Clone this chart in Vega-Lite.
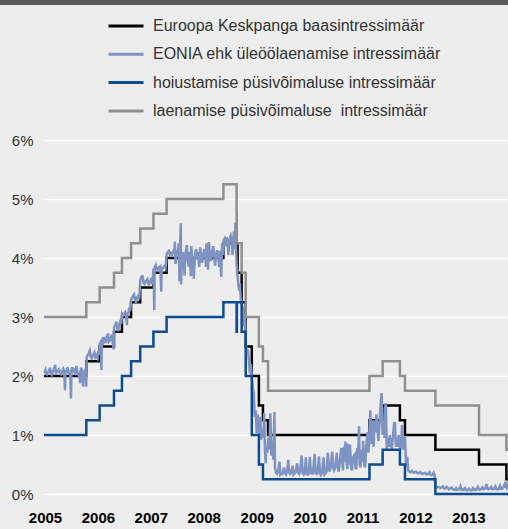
{
  "$schema": "https://vega.github.io/schema/vega-lite/v6.json",
  "autosize": {"type": "none"},
  "padding": {"left": 44, "top": 140, "right": 0, "bottom": 35},
  "width": 464,
  "height": 354,
  "background": "#ECEDEC",
  "config": {
    "view": {"stroke": null},
    "font": "Liberation Sans"
  },
  "datasets": {
    "band": [{"band": "top"}],
    "rates": [
      {"d": "2005-02-17", "s": "Euroopa Keskpanga baasintressimäär", "v": 2.00},
      {"d": "2005-12-06", "s": "Euroopa Keskpanga baasintressimäär", "v": 2.25},
      {"d": "2006-03-08", "s": "Euroopa Keskpanga baasintressimäär", "v": 2.50},
      {"d": "2006-06-15", "s": "Euroopa Keskpanga baasintressimäär", "v": 2.75},
      {"d": "2006-08-09", "s": "Euroopa Keskpanga baasintressimäär", "v": 3.00},
      {"d": "2006-10-11", "s": "Euroopa Keskpanga baasintressimäär", "v": 3.25},
      {"d": "2006-12-13", "s": "Euroopa Keskpanga baasintressimäär", "v": 3.50},
      {"d": "2007-03-14", "s": "Euroopa Keskpanga baasintressimäär", "v": 3.75},
      {"d": "2007-06-13", "s": "Euroopa Keskpanga baasintressimäär", "v": 4.00},
      {"d": "2008-07-09", "s": "Euroopa Keskpanga baasintressimäär", "v": 4.25},
      {"d": "2008-10-15", "s": "Euroopa Keskpanga baasintressimäär", "v": 3.75},
      {"d": "2008-11-12", "s": "Euroopa Keskpanga baasintressimäär", "v": 3.25},
      {"d": "2008-12-10", "s": "Euroopa Keskpanga baasintressimäär", "v": 2.50},
      {"d": "2009-01-21", "s": "Euroopa Keskpanga baasintressimäär", "v": 2.00},
      {"d": "2009-03-11", "s": "Euroopa Keskpanga baasintressimäär", "v": 1.50},
      {"d": "2009-04-08", "s": "Euroopa Keskpanga baasintressimäär", "v": 1.25},
      {"d": "2009-05-13", "s": "Euroopa Keskpanga baasintressimäär", "v": 1.00},
      {"d": "2011-04-13", "s": "Euroopa Keskpanga baasintressimäär", "v": 1.25},
      {"d": "2011-07-13", "s": "Euroopa Keskpanga baasintressimäär", "v": 1.50},
      {"d": "2011-11-09", "s": "Euroopa Keskpanga baasintressimäär", "v": 1.25},
      {"d": "2011-12-14", "s": "Euroopa Keskpanga baasintressimäär", "v": 1.00},
      {"d": "2012-07-11", "s": "Euroopa Keskpanga baasintressimäär", "v": 0.75},
      {"d": "2013-05-08", "s": "Euroopa Keskpanga baasintressimäär", "v": 0.50},
      {"d": "2013-11-13", "s": "Euroopa Keskpanga baasintressimäär", "v": 0.25},
      {"d": "2013-11-25", "s": "Euroopa Keskpanga baasintressimäär", "v": 0.25},
      {"d": "2005-02-17", "s": "hoiustamise püsivõimaluse intressimäär", "v": 1.00},
      {"d": "2005-12-06", "s": "hoiustamise püsivõimaluse intressimäär", "v": 1.25},
      {"d": "2006-03-08", "s": "hoiustamise püsivõimaluse intressimäär", "v": 1.50},
      {"d": "2006-06-15", "s": "hoiustamise püsivõimaluse intressimäär", "v": 1.75},
      {"d": "2006-08-09", "s": "hoiustamise püsivõimaluse intressimäär", "v": 2.00},
      {"d": "2006-10-11", "s": "hoiustamise püsivõimaluse intressimäär", "v": 2.25},
      {"d": "2006-12-13", "s": "hoiustamise püsivõimaluse intressimäär", "v": 2.50},
      {"d": "2007-03-14", "s": "hoiustamise püsivõimaluse intressimäär", "v": 2.75},
      {"d": "2007-06-13", "s": "hoiustamise püsivõimaluse intressimäär", "v": 3.00},
      {"d": "2008-07-09", "s": "hoiustamise püsivõimaluse intressimäär", "v": 3.25},
      {"d": "2008-10-08", "s": "hoiustamise püsivõimaluse intressimäär", "v": 2.75},
      {"d": "2008-10-10", "s": "hoiustamise püsivõimaluse intressimäär", "v": 3.25},
      {"d": "2008-11-12", "s": "hoiustamise püsivõimaluse intressimäär", "v": 2.75},
      {"d": "2008-12-10", "s": "hoiustamise püsivõimaluse intressimäär", "v": 2.00},
      {"d": "2009-01-21", "s": "hoiustamise püsivõimaluse intressimäär", "v": 1.00},
      {"d": "2009-03-11", "s": "hoiustamise püsivõimaluse intressimäär", "v": 0.50},
      {"d": "2009-04-08", "s": "hoiustamise püsivõimaluse intressimäär", "v": 0.25},
      {"d": "2011-04-13", "s": "hoiustamise püsivõimaluse intressimäär", "v": 0.50},
      {"d": "2011-07-13", "s": "hoiustamise püsivõimaluse intressimäär", "v": 0.75},
      {"d": "2011-11-09", "s": "hoiustamise püsivõimaluse intressimäär", "v": 0.50},
      {"d": "2011-12-14", "s": "hoiustamise püsivõimaluse intressimäär", "v": 0.25},
      {"d": "2012-07-11", "s": "hoiustamise püsivõimaluse intressimäär", "v": 0.00},
      {"d": "2013-11-25", "s": "hoiustamise püsivõimaluse intressimäär", "v": 0.00},
      {"d": "2005-02-17", "s": "laenamise püsivõimaluse\u00a0 intressimäär", "v": 3.00},
      {"d": "2005-12-06", "s": "laenamise püsivõimaluse\u00a0 intressimäär", "v": 3.25},
      {"d": "2006-03-08", "s": "laenamise püsivõimaluse\u00a0 intressimäär", "v": 3.50},
      {"d": "2006-06-15", "s": "laenamise püsivõimaluse\u00a0 intressimäär", "v": 3.75},
      {"d": "2006-08-09", "s": "laenamise püsivõimaluse\u00a0 intressimäär", "v": 4.00},
      {"d": "2006-10-11", "s": "laenamise püsivõimaluse\u00a0 intressimäär", "v": 4.25},
      {"d": "2006-12-13", "s": "laenamise püsivõimaluse\u00a0 intressimäär", "v": 4.50},
      {"d": "2007-03-14", "s": "laenamise püsivõimaluse\u00a0 intressimäär", "v": 4.75},
      {"d": "2007-06-13", "s": "laenamise püsivõimaluse\u00a0 intressimäär", "v": 5.00},
      {"d": "2008-07-09", "s": "laenamise püsivõimaluse\u00a0 intressimäär", "v": 5.25},
      {"d": "2008-10-08", "s": "laenamise püsivõimaluse\u00a0 intressimäär", "v": 4.75},
      {"d": "2008-10-09", "s": "laenamise püsivõimaluse\u00a0 intressimäär", "v": 4.25},
      {"d": "2008-11-12", "s": "laenamise püsivõimaluse\u00a0 intressimäär", "v": 3.75},
      {"d": "2008-12-10", "s": "laenamise püsivõimaluse\u00a0 intressimäär", "v": 3.00},
      {"d": "2009-03-11", "s": "laenamise püsivõimaluse\u00a0 intressimäär", "v": 2.50},
      {"d": "2009-04-08", "s": "laenamise püsivõimaluse\u00a0 intressimäär", "v": 2.25},
      {"d": "2009-05-13", "s": "laenamise püsivõimaluse\u00a0 intressimäär", "v": 1.75},
      {"d": "2011-04-13", "s": "laenamise püsivõimaluse\u00a0 intressimäär", "v": 2.00},
      {"d": "2011-07-13", "s": "laenamise püsivõimaluse\u00a0 intressimäär", "v": 2.25},
      {"d": "2011-11-09", "s": "laenamise püsivõimaluse\u00a0 intressimäär", "v": 2.00},
      {"d": "2011-12-14", "s": "laenamise püsivõimaluse\u00a0 intressimäär", "v": 1.75},
      {"d": "2012-07-11", "s": "laenamise püsivõimaluse\u00a0 intressimäär", "v": 1.50},
      {"d": "2013-05-08", "s": "laenamise püsivõimaluse\u00a0 intressimäär", "v": 1.00},
      {"d": "2013-11-13", "s": "laenamise püsivõimaluse\u00a0 intressimäär", "v": 0.75},
      {"d": "2013-11-25", "s": "laenamise püsivõimaluse\u00a0 intressimäär", "v": 0.75}
    ],
    "eonia": [
      {"d":"2005-02-17","v":2.06},{"d":"2005-02-24","v":2.07},{"d":"2005-02-28","v":2.10},{"d":"2005-03-04","v":2.05},{"d":"2005-03-09","v":2.03},{"d":"2005-03-14","v":2.06},{"d":"2005-03-22","v":2.07},{"d":"2005-03-31","v":2.14},{"d":"2005-04-06","v":2.05},{"d":"2005-04-12","v":2.02},{"d":"2005-04-18","v":2.07},{"d":"2005-04-29","v":2.13},{"d":"2005-05-05","v":2.19},{"d":"2005-05-10","v":2.05},{"d":"2005-05-18","v":2.07},{"d":"2005-05-31","v":2.11},{"d":"2005-06-07","v":2.06},{"d":"2005-06-14","v":2.03},{"d":"2005-06-21","v":2.07},{"d":"2005-06-30","v":2.12},{"d":"2005-07-06","v":2.08},{"d":"2005-07-12","v":1.76},{"d":"2005-07-15","v":2.07},{"d":"2005-07-22","v":2.08},{"d":"2005-07-29","v":2.15},{"d":"2005-08-04","v":2.06},{"d":"2005-08-10","v":2.04},{"d":"2005-08-17","v":2.07},{"d":"2005-08-22","v":1.62},{"d":"2005-08-25","v":2.06},{"d":"2005-08-31","v":2.15},{"d":"2005-09-06","v":2.08},{"d":"2005-09-13","v":2.10},{"d":"2005-09-20","v":2.06},{"d":"2005-09-30","v":2.17},{"d":"2005-10-05","v":2.06},{"d":"2005-10-11","v":2.03},{"d":"2005-10-18","v":2.07},{"d":"2005-10-24","v":1.88},{"d":"2005-10-27","v":2.07},{"d":"2005-10-31","v":2.14},{"d":"2005-11-08","v":2.06},{"d":"2005-11-14","v":1.82},{"d":"2005-11-17","v":2.07},{"d":"2005-11-24","v":2.08},{"d":"2005-11-30","v":2.12},{"d":"2005-12-05","v":1.82},
      {"d":"2005-12-08","v":2.30},{"d":"2005-12-14","v":2.35},{"d":"2005-12-22","v":2.38},{"d":"2005-12-30","v":2.43},{"d":"2006-01-05","v":2.33},{"d":"2006-01-12","v":2.30},{"d":"2006-01-19","v":2.34},{"d":"2006-01-31","v":2.40},{"d":"2006-02-06","v":2.32},{"d":"2006-02-14","v":2.35},{"d":"2006-02-21","v":2.31},{"d":"2006-02-28","v":2.42},{"d":"2006-03-06","v":2.36},{"d":"2006-03-09","v":2.55},{"d":"2006-03-16","v":2.58},{"d":"2006-03-20","v":2.10},{"d":"2006-03-23","v":2.57},{"d":"2006-03-31","v":2.66},{"d":"2006-04-06","v":2.58},{"d":"2006-04-13","v":2.62},{"d":"2006-04-20","v":2.56},{"d":"2006-04-28","v":2.67},{"d":"2006-05-05","v":2.72},{"d":"2006-05-11","v":2.58},{"d":"2006-05-19","v":2.60},{"d":"2006-05-31","v":2.70},{"d":"2006-06-06","v":2.59},{"d":"2006-06-12","v":2.45},{"d":"2006-06-16","v":2.83},{"d":"2006-06-23","v":2.86},{"d":"2006-06-30","v":2.92},{"d":"2006-07-06","v":2.84},{"d":"2006-07-13","v":2.76},{"d":"2006-07-20","v":2.86},{"d":"2006-07-31","v":2.95},{"d":"2006-08-04","v":2.88},
      {"d":"2006-08-10","v":3.05},{"d":"2006-08-17","v":3.02},{"d":"2006-08-31","v":3.08},{"d":"2006-09-06","v":3.04},{"d":"2006-09-12","v":2.86},{"d":"2006-09-15","v":3.05},{"d":"2006-09-22","v":3.07},{"d":"2006-09-29","v":3.16},{"d":"2006-10-05","v":3.10},{"d":"2006-10-12","v":3.30},{"d":"2006-10-19","v":3.33},{"d":"2006-10-31","v":3.38},{"d":"2006-11-06","v":3.32},{"d":"2006-11-13","v":3.24},{"d":"2006-11-20","v":3.33},{"d":"2006-11-30","v":3.36},{"d":"2006-12-06","v":3.30},{"d":"2006-12-14","v":3.62},{"d":"2006-12-20","v":3.68},{"d":"2006-12-29","v":3.69},
      {"d":"2007-01-05","v":3.58},{"d":"2007-01-12","v":3.56},{"d":"2007-01-19","v":3.60},{"d":"2007-01-31","v":3.64},{"d":"2007-02-06","v":3.57},{"d":"2007-02-13","v":3.55},{"d":"2007-02-20","v":3.60},{"d":"2007-02-28","v":3.66},{"d":"2007-03-07","v":3.56},{"d":"2007-03-15","v":3.82},{"d":"2007-03-20","v":3.12},{"d":"2007-03-23","v":3.84},{"d":"2007-03-30","v":3.88},{"d":"2007-04-05","v":3.82},{"d":"2007-04-12","v":3.80},{"d":"2007-04-19","v":3.84},{"d":"2007-04-30","v":3.86},{"d":"2007-05-07","v":3.43},{"d":"2007-05-10","v":3.82},{"d":"2007-05-18","v":3.83},{"d":"2007-05-31","v":3.87},{"d":"2007-06-06","v":3.84},{"d":"2007-06-14","v":4.07},{"d":"2007-06-21","v":4.10},{"d":"2007-06-29","v":4.12},{"d":"2007-07-06","v":4.06},{"d":"2007-07-13","v":4.08},{"d":"2007-07-20","v":4.05},{"d":"2007-07-31","v":4.12},{"d":"2007-08-06","v":4.08},{"d":"2007-08-09","v":4.28},{"d":"2007-08-14","v":3.90},{"d":"2007-08-21","v":4.10},{"d":"2007-08-31","v":4.13},{"d":"2007-09-05","v":4.25},{"d":"2007-09-10","v":3.60},{"d":"2007-09-13","v":4.10},{"d":"2007-09-19","v":4.59},{"d":"2007-09-21","v":3.55},{"d":"2007-09-26","v":4.05},{"d":"2007-10-02","v":4.10},{"d":"2007-10-09","v":3.92},{"d":"2007-10-15","v":3.70},{"d":"2007-10-19","v":4.05},{"d":"2007-10-31","v":4.22},{"d":"2007-11-06","v":3.95},{"d":"2007-11-13","v":3.85},{"d":"2007-11-20","v":4.10},{"d":"2007-11-27","v":3.69},{"d":"2007-11-30","v":4.20},{"d":"2007-12-05","v":4.05},{"d":"2007-12-11","v":3.92},{"d":"2007-12-18","v":3.65},{"d":"2007-12-21","v":3.85},{"d":"2007-12-28","v":4.10},
      {"d":"2008-01-04","v":4.15},{"d":"2008-01-10","v":3.98},{"d":"2008-01-17","v":4.10},{"d":"2008-01-24","v":3.85},{"d":"2008-01-31","v":4.18},{"d":"2008-02-06","v":4.02},{"d":"2008-02-13","v":3.92},{"d":"2008-02-20","v":4.07},{"d":"2008-02-29","v":4.15},{"d":"2008-03-06","v":4.05},{"d":"2008-03-11","v":3.85},{"d":"2008-03-14","v":4.25},{"d":"2008-03-20","v":4.15},{"d":"2008-03-25","v":3.80},{"d":"2008-03-31","v":4.27},{"d":"2008-04-07","v":4.02},{"d":"2008-04-14","v":3.95},{"d":"2008-04-21","v":4.10},{"d":"2008-04-30","v":4.20},{"d":"2008-05-06","v":4.05},{"d":"2008-05-13","v":3.87},{"d":"2008-05-20","v":4.05},{"d":"2008-05-26","v":4.13},{"d":"2008-05-30","v":4.10},{"d":"2008-06-05","v":4.00},{"d":"2008-06-10","v":3.85},{"d":"2008-06-16","v":4.12},{"d":"2008-06-24","v":3.68},{"d":"2008-06-30","v":4.25},{"d":"2008-07-07","v":4.05},{"d":"2008-07-10","v":4.30},{"d":"2008-07-17","v":4.33},{"d":"2008-07-24","v":4.20},{"d":"2008-07-31","v":4.35},{"d":"2008-08-07","v":4.28},{"d":"2008-08-12","v":4.05},{"d":"2008-08-19","v":4.30},{"d":"2008-08-29","v":4.38},{"d":"2008-09-05","v":4.32},{"d":"2008-09-09","v":4.05},{"d":"2008-09-16","v":4.25},{"d":"2008-09-19","v":4.45},{"d":"2008-09-24","v":4.15},{"d":"2008-09-30","v":4.60},{"d":"2008-10-03","v":4.30},{"d":"2008-10-08","v":3.90},{"d":"2008-10-13","v":3.75},{"d":"2008-10-20","v":3.55},{"d":"2008-10-27","v":3.45},{"d":"2008-10-31","v":3.57},{"d":"2008-11-06","v":3.30},{"d":"2008-11-13","v":3.20},{"d":"2008-11-20","v":3.15},{"d":"2008-11-27","v":2.84},{"d":"2008-12-05","v":3.05},{"d":"2008-12-11","v":2.55},{"d":"2008-12-18","v":2.39},{"d":"2008-12-24","v":2.45},{"d":"2008-12-31","v":2.30},
      {"d":"2009-01-07","v":2.05},{"d":"2009-01-14","v":2.20},{"d":"2009-01-21","v":1.99},{"d":"2009-01-28","v":1.80},{"d":"2009-02-04","v":1.70},{"d":"2009-02-10","v":1.31},{"d":"2009-02-17","v":1.42},{"d":"2009-02-24","v":1.03},{"d":"2009-03-02","v":1.35},{"d":"2009-03-09","v":1.15},{"d":"2009-03-13","v":0.95},{"d":"2009-03-20","v":1.31},{"d":"2009-03-27","v":0.92},{"d":"2009-04-03","v":1.10},{"d":"2009-04-10","v":0.95},{"d":"2009-04-17","v":1.37},{"d":"2009-04-22","v":0.70},{"d":"2009-04-27","v":0.52},{"d":"2009-05-01","v":0.80},{"d":"2009-05-08","v":0.70},{"d":"2009-05-15","v":0.95},{"d":"2009-05-22","v":0.75},{"d":"2009-05-29","v":1.37},{"d":"2009-06-05","v":0.65},{"d":"2009-06-12","v":0.90},{"d":"2009-06-19","v":0.58},{"d":"2009-06-26","v":1.39},{"d":"2009-06-30","v":0.46},
      {"d":"2009-07-07","v":0.36},{"d":"2009-07-14","v":0.34},{"d":"2009-07-21","v":0.37},{"d":"2009-07-31","v":0.55},{"d":"2009-08-06","v":0.33},{"d":"2009-08-13","v":0.35},{"d":"2009-08-20","v":0.34},{"d":"2009-08-31","v":0.45},{"d":"2009-09-07","v":0.36},{"d":"2009-09-14","v":0.33},{"d":"2009-09-21","v":0.38},{"d":"2009-09-30","v":0.58},{"d":"2009-10-06","v":0.36},{"d":"2009-10-13","v":0.34},{"d":"2009-10-20","v":0.37},{"d":"2009-10-30","v":0.48},{"d":"2009-11-05","v":0.33},{"d":"2009-11-12","v":0.35},{"d":"2009-11-19","v":0.37},{"d":"2009-11-30","v":0.52},{"d":"2009-12-07","v":0.36},{"d":"2009-12-14","v":0.34},{"d":"2009-12-21","v":0.40},{"d":"2009-12-31","v":0.65},
      {"d":"2010-01-07","v":0.35},{"d":"2010-01-14","v":0.33},{"d":"2010-01-21","v":0.36},{"d":"2010-01-29","v":0.62},{"d":"2010-02-04","v":0.34},{"d":"2010-02-11","v":0.33},{"d":"2010-02-18","v":0.36},{"d":"2010-02-26","v":0.63},{"d":"2010-03-04","v":0.34},{"d":"2010-03-11","v":0.38},{"d":"2010-03-18","v":0.33},{"d":"2010-03-31","v":0.68},{"d":"2010-04-07","v":0.35},{"d":"2010-04-14","v":0.34},{"d":"2010-04-21","v":0.37},{"d":"2010-04-30","v":0.64},{"d":"2010-05-06","v":0.35},{"d":"2010-05-13","v":0.32},{"d":"2010-05-20","v":0.35},{"d":"2010-05-31","v":0.62},{"d":"2010-06-07","v":0.33},{"d":"2010-06-14","v":0.35},{"d":"2010-06-21","v":0.38},{"d":"2010-06-30","v":0.70},{"d":"2010-07-06","v":0.45},{"d":"2010-07-13","v":0.38},{"d":"2010-07-20","v":0.48},{"d":"2010-07-30","v":0.72},{"d":"2010-08-05","v":0.44},{"d":"2010-08-12","v":0.40},{"d":"2010-08-19","v":0.45},{"d":"2010-08-31","v":0.70},{"d":"2010-09-06","v":0.45},{"d":"2010-09-13","v":0.38},{"d":"2010-09-20","v":0.52},{"d":"2010-09-30","v":0.78},{"d":"2010-10-06","v":0.60},{"d":"2010-10-12","v":0.40},{"d":"2010-10-18","v":0.80},{"d":"2010-10-25","v":0.55},{"d":"2010-10-29","v":0.89},{"d":"2010-11-04","v":0.62},{"d":"2010-11-11","v":0.42},{"d":"2010-11-16","v":0.85},{"d":"2010-11-23","v":0.50},{"d":"2010-11-30","v":0.84},{"d":"2010-12-06","v":0.45},{"d":"2010-12-13","v":0.40},{"d":"2010-12-20","v":0.62},{"d":"2010-12-31","v":0.66},
      {"d":"2011-01-06","v":0.45},{"d":"2011-01-12","v":0.42},{"d":"2011-01-18","v":0.78},{"d":"2011-01-25","v":0.60},{"d":"2011-01-31","v":1.15},{"d":"2011-02-04","v":0.50},{"d":"2011-02-10","v":0.45},{"d":"2011-02-17","v":0.75},{"d":"2011-02-24","v":0.55},{"d":"2011-02-28","v":0.90},{"d":"2011-03-07","v":0.50},{"d":"2011-03-14","v":0.45},{"d":"2011-03-21","v":0.80},{"d":"2011-03-31","v":1.05},{"d":"2011-04-06","v":0.70},{"d":"2011-04-13","v":1.05},{"d":"2011-04-19","v":1.42},{"d":"2011-04-26","v":0.85},{"d":"2011-04-29","v":1.25},{"d":"2011-05-06","v":0.95},{"d":"2011-05-12","v":0.80},{"d":"2011-05-18","v":1.25},{"d":"2011-05-25","v":1.05},{"d":"2011-05-31","v":1.35},{"d":"2011-06-07","v":1.10},{"d":"2011-06-14","v":0.90},{"d":"2011-06-21","v":1.20},{"d":"2011-06-30","v":1.55},{"d":"2011-07-06","v":1.71},{"d":"2011-07-12","v":1.00},{"d":"2011-07-19","v":1.20},{"d":"2011-07-26","v":0.95},{"d":"2011-07-29","v":1.45},{"d":"2011-08-04","v":1.54},{"d":"2011-08-10","v":0.75},{"d":"2011-08-17","v":0.95},{"d":"2011-08-24","v":0.80},{"d":"2011-08-31","v":1.00},{"d":"2011-09-07","v":0.85},{"d":"2011-09-14","v":0.75},{"d":"2011-09-21","v":0.95},{"d":"2011-09-30","v":1.20},{"d":"2011-10-06","v":1.20},{"d":"2011-10-12","v":0.80},{"d":"2011-10-19","v":0.95},{"d":"2011-10-26","v":0.80},{"d":"2011-10-31","v":1.00},{"d":"2011-11-07","v":0.92},{"d":"2011-11-11","v":0.75},{"d":"2011-11-17","v":0.80},{"d":"2011-11-24","v":1.17},{"d":"2011-11-30","v":0.80},{"d":"2011-12-07","v":0.75},{"d":"2011-12-14","v":0.97},{"d":"2011-12-20","v":0.60},{"d":"2011-12-23","v":0.45},{"d":"2011-12-30","v":0.63},
      {"d":"2012-01-05","v":0.40},{"d":"2012-01-12","v":0.38},{"d":"2012-01-19","v":0.37},{"d":"2012-01-31","v":0.39},{"d":"2012-02-07","v":0.37},{"d":"2012-02-14","v":0.36},{"d":"2012-02-21","v":0.37},{"d":"2012-02-29","v":0.38},{"d":"2012-03-07","v":0.36},{"d":"2012-03-14","v":0.35},{"d":"2012-03-21","v":0.36},{"d":"2012-03-30","v":0.37},{"d":"2012-04-05","v":0.35},{"d":"2012-04-12","v":0.34},{"d":"2012-04-19","v":0.35},{"d":"2012-04-30","v":0.36},{"d":"2012-05-07","v":0.34},{"d":"2012-05-14","v":0.33},{"d":"2012-05-21","v":0.34},{"d":"2012-05-31","v":0.37},{"d":"2012-06-07","v":0.33},{"d":"2012-06-14","v":0.32},{"d":"2012-06-21","v":0.33},{"d":"2012-06-29","v":0.36},{"d":"2012-07-05","v":0.33},{"d":"2012-07-11","v":0.13},{"d":"2012-07-18","v":0.11},{"d":"2012-07-31","v":0.12},{"d":"2012-08-07","v":0.11},{"d":"2012-08-14","v":0.10},{"d":"2012-08-21","v":0.11},{"d":"2012-08-31","v":0.13},{"d":"2012-09-07","v":0.10},{"d":"2012-09-14","v":0.09},{"d":"2012-09-21","v":0.10},{"d":"2012-09-28","v":0.12},{"d":"2012-10-05","v":0.10},{"d":"2012-10-12","v":0.08},{"d":"2012-10-19","v":0.09},{"d":"2012-10-31","v":0.11},{"d":"2012-11-07","v":0.08},{"d":"2012-11-14","v":0.08},{"d":"2012-11-21","v":0.07},{"d":"2012-11-30","v":0.10},{"d":"2012-12-07","v":0.07},{"d":"2012-12-14","v":0.07},{"d":"2012-12-21","v":0.08},{"d":"2012-12-31","v":0.13},
      {"d":"2013-01-07","v":0.07},{"d":"2013-01-14","v":0.08},{"d":"2013-01-21","v":0.07},{"d":"2013-01-31","v":0.10},{"d":"2013-02-07","v":0.07},{"d":"2013-02-14","v":0.06},{"d":"2013-02-21","v":0.07},{"d":"2013-02-28","v":0.09},{"d":"2013-03-07","v":0.07},{"d":"2013-03-14","v":0.06},{"d":"2013-03-21","v":0.07},{"d":"2013-03-28","v":0.10},{"d":"2013-04-05","v":0.07},{"d":"2013-04-12","v":0.08},{"d":"2013-04-19","v":0.07},{"d":"2013-04-30","v":0.12},{"d":"2013-05-07","v":0.08},{"d":"2013-05-14","v":0.07},{"d":"2013-05-21","v":0.08},{"d":"2013-05-31","v":0.11},{"d":"2013-06-07","v":0.08},{"d":"2013-06-14","v":0.09},{"d":"2013-06-21","v":0.10},{"d":"2013-06-28","v":0.17},{"d":"2013-07-05","v":0.09},{"d":"2013-07-12","v":0.08},{"d":"2013-07-19","v":0.09},{"d":"2013-07-31","v":0.12},{"d":"2013-08-07","v":0.08},{"d":"2013-08-14","v":0.08},{"d":"2013-08-21","v":0.09},{"d":"2013-08-30","v":0.13},{"d":"2013-09-06","v":0.08},{"d":"2013-09-13","v":0.08},{"d":"2013-09-20","v":0.08},{"d":"2013-09-30","v":0.14},{"d":"2013-10-07","v":0.09},{"d":"2013-10-14","v":0.09},{"d":"2013-10-21","v":0.10},{"d":"2013-10-31","v":0.16},{"d":"2013-11-07","v":0.11},{"d":"2013-11-12","v":0.21},{"d":"2013-11-18","v":0.10},{"d":"2013-11-25","v":0.12}
    ]
  },
  "layer": [
    {
      "data": {"name": "rates"},
      "transform": [{"filter": "datum.s == 'Euroopa Keskpanga baasintressimäär'"}],
      "mark": {"type": "line", "interpolate": "step-after", "strokeWidth": 2.5},
      "encoding": {
        "x": {
          "field": "d",
          "type": "temporal",
          "scale": {"domain": [{"year": 2005, "month": 2, "date": 17}, {"year": 2013, "month": 11, "date": 24}]},
          "axis": {
            "title": null,
            "domain": false,
            "ticks": false,
            "grid": false,
            "format": "%Y",
            "values": [
              {"year": 2005, "month": 2, "date": 24}, {"year": 2006, "month": 2, "date": 24}, {"year": 2007, "month": 2, "date": 24},
              {"year": 2008, "month": 2, "date": 24}, {"year": 2009, "month": 2, "date": 24}, {"year": 2010, "month": 2, "date": 24},
              {"year": 2011, "month": 2, "date": 24}, {"year": 2012, "month": 2, "date": 24}, {"year": 2013, "month": 2, "date": 24}
            ],
            "labelFlush": false,
            "labelBound": false,
            "labelOverlap": false,
            "labelFont": "Liberation Sans",
            "labelFontWeight": "bold",
            "labelFontSize": 15,
            "labelColor": "#000000",
            "labelPadding": 16
          }
        },
        "y": {
          "field": "v",
          "type": "quantitative",
          "scale": {"domain": [0, 6], "nice": false},
          "axis": {
            "title": null,
            "domain": false,
            "ticks": false,
            "values": [0, 1, 2, 3, 4, 5, 6],
            "labelExpr": "datum.value + '%'",
            "grid": true,
            "gridColor": "#FFFFFF",
            "gridWidth": 1.5,
            "labelFont": "Liberation Sans",
            "labelFontSize": 15,
            "labelColor": "#333333",
            "labelPadding": 11
          }
        },
        "color": {"field": "s", "type": "nominal"}
      }
    },
    {
      "data": {"name": "eonia"},
      "mark": {"type": "line", "strokeWidth": 2.5},
      "encoding": {
        "x": {"field": "d", "type": "temporal"},
        "y": {"field": "v", "type": "quantitative"},
        "color": {"datum": "EONIA ehk üleöölaenamise intressimäär", "type": "nominal"}
      }
    },
    {
      "data": {"name": "rates"},
      "transform": [{"filter": "datum.s != 'Euroopa Keskpanga baasintressimäär'"}],
      "mark": {"type": "line", "interpolate": "step-after", "strokeWidth": 2.5},
      "encoding": {
        "x": {"field": "d", "type": "temporal"},
        "y": {"field": "v", "type": "quantitative"},
        "color": {
          "field": "s",
          "type": "nominal",
          "scale": {
            "domain": ["Euroopa Keskpanga baasintressimäär", "EONIA ehk üleöölaenamise intressimäär", "hoiustamise püsivõimaluse intressimäär", "laenamise püsivõimaluse\u00a0 intressimäär"],
            "range": ["#000000", "#7F93C3", "#0F4C8F", "#8F8F8F"]
          },
          "legend": {
            "title": null,
            "orient": "none",
            "legendX": 63,
            "legendY": -133,
            "padding": 0,
            "symbolType": "stroke",
            "symbolSize": 1225,
            "symbolStrokeWidth": 3,
            "rowPadding": 1.3,
            "labelFont": "Liberation Sans",
            "labelFontSize": 16,
            "labelColor": "#333333",
            "labelOffset": 8,
            "labelLimit": 400
          }
        }
      }
    },
    {
      "data": {"name": "band"},
      "mark": {"type": "rect", "color": "#58585A", "clip": false},
      "encoding": {
        "x": {"datum": 1041379200000, "type": "temporal"},
        "x2": {"datum": 1420070400000},
        "y": {"datum": 8.29, "type": "quantitative"},
        "y2": {"datum": 8.45}
      }
    }
  ]
}
